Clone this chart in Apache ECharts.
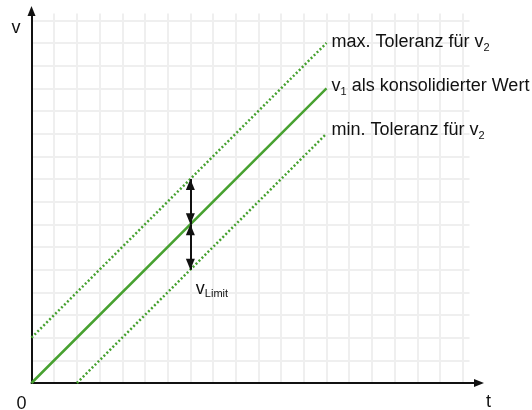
<!DOCTYPE html>
<html>
<head>
<meta charset="utf-8">
<script src="https://cdn.jsdelivr.net/npm/echarts@6/dist/echarts.min.js"></script>
<style>
  html, body { margin: 0; padding: 0; background: #ffffff; }
  #chart { width: 532px; height: 410px; }
</style>
</head>
<body>
<div id="chart"></div>
<script>
// Values in grid units (one unit = one grid cell)
const v1Points     = [[0, 0], [13, 13]];   // v1 as consolidated value
const maxTolPoints = [[0, 2], [13, 15]];   // upper tolerance for v2
const minTolPoints = [[2, 0], [13, 11]];   // lower tolerance for v2
const limitT = 7;                          // where the tolerance band is dimensioned
const limitLevels = [9, 7, 5];             // max tolerance, v1, min tolerance at limitT

// Texts
const seriesTexts = {
  max: 'max. Toleranz für v{s|2}',
  v1:  'v{s|1} als konsolidierter Wert',
  min: 'min. Toleranz für v{s|2}'
};
const limitText = 'v{s|Limit}';
const axisNames = { t: 't', v: 'v' };
const originLabel = '0';

const FONT = '"Liberation Sans", Arial, Helvetica, sans-serif';
const GREEN = '#47a130';
const INK = '#111111';
const GRIDLINE = '#efefef';

function subRich(lh) {
  return { s: { fontSize: 11, lineHeight: lh, verticalAlign: 'bottom', fontFamily: FONT, color: INK } };
}

function endLabel(text, dy) {
  return {
    show: true,
    formatter: text,
    distance: 5,
    offset: [0, dy],
    fontFamily: FONT,
    fontSize: 18,
    lineHeight: 22,
    color: INK,
    rich: subRich(6)
  };
}

const dotted = [2, 2.2];

const chart = echarts.init(document.getElementById('chart'), null, { renderer: 'canvas' });

chart.setOption({
  animation: false,
  backgroundColor: '#ffffff',
  grid: [
    // plotting area with the square grid
    { left: 31.5, top: 13.5, width: 438, height: 369.5, outerBoundsMode: 'none', containLabel: false },
    // axes with arrow heads, reaching a little past the grid
    { left: 31.5, top: 11, width: 447.5, height: 372, outerBoundsMode: 'none', containLabel: false }
  ],
  xAxis: [
    {
      gridIndex: 0, type: 'value', min: 0, max: 19.3, interval: 1,
      axisLine: { show: false }, axisTick: { show: false }, axisLabel: { show: false },
      splitLine: { show: true, showMinLine: false, showMaxLine: false,
                   lineStyle: { color: GRIDLINE, width: 2 } }
    },
    {
      gridIndex: 1, type: 'value', min: 0, max: 1, interval: 1,
      axisLine: { show: true, symbol: ['none', 'triangle'], symbolSize: [8, 10],
                  lineStyle: { color: INK, width: 2 } },
      axisTick: { show: false },
      splitLine: { show: false },
      axisLabel: {
        show: true, margin: 12, align: 'right', padding: [0, 5, 0, 0],
        fontFamily: FONT, fontSize: 18, lineHeight: 18, color: INK,
        formatter: v => (v === 0 ? originLabel : '')
      },
      name: axisNames.t, nameLocation: 'end', nameGap: 7,
      nameTextStyle: { fontFamily: FONT, fontSize: 18, lineHeight: 38, color: INK,
                       align: 'left', verticalAlign: 'top' }
    }
  ],
  yAxis: [
    {
      gridIndex: 0, type: 'value', min: 0, max: 16.3, interval: 1,
      axisLine: { show: false }, axisTick: { show: false }, axisLabel: { show: false },
      splitLine: { show: true, showMinLine: false, showMaxLine: false,
                   lineStyle: { color: GRIDLINE, width: 2 } }
    },
    {
      gridIndex: 1, type: 'value', min: 0, max: 1, interval: 1,
      axisLine: { show: true, symbol: ['none', 'triangle'], symbolSize: [8, 10],
                  lineStyle: { color: INK, width: 2 } },
      axisTick: { show: false }, axisLabel: { show: false }, splitLine: { show: false },
      name: axisNames.v, nameLocation: 'end', nameGap: -4,
      nameTextStyle: { fontFamily: FONT, fontSize: 18, lineHeight: 26, color: INK,
                       align: 'right', verticalAlign: 'top', padding: [0, 11, 0, 0] }
    }
  ],
  series: [
    {
      name: 'max', type: 'line', xAxisIndex: 0, yAxisIndex: 0,
      data: maxTolPoints, symbol: 'none', silent: true,
      lineStyle: { color: GREEN, width: 2.5, type: dotted },
      endLabel: endLabel(seriesTexts.max, -1)
    },
    {
      name: 'v1', type: 'line', xAxisIndex: 0, yAxisIndex: 0,
      data: v1Points, symbol: 'none', silent: true,
      lineStyle: { color: GREEN, width: 2.5, type: 'solid' },
      endLabel: endLabel(seriesTexts.v1, -2)
    },
    {
      name: 'min', type: 'line', xAxisIndex: 0, yAxisIndex: 0,
      data: minTolPoints, symbol: 'none', silent: true,
      lineStyle: { color: GREEN, width: 2.5, type: dotted },
      endLabel: endLabel(seriesTexts.min, -3.5),
      markLine: {
        silent: true,
        symbol: ['triangle', 'triangle'],
        symbolSize: [9, 11],
        symbolOffset: [[0, 5.5], [0, 5.5]],
        lineStyle: { color: INK, width: 2, type: 'solid' },
        label: { show: false },
        emphasis: { disabled: true },
        data: [
          [{ coord: [limitT, limitLevels[0]] }, { coord: [limitT, limitLevels[1]] }],
          [{ coord: [limitT, limitLevels[1]] }, { coord: [limitT, limitLevels[2]] }]
        ]
      },
      markPoint: {
        silent: true,
        symbol: 'circle', symbolSize: 1,
        itemStyle: { color: 'rgba(0,0,0,0)' },
        label: {
          show: true, position: 'right', distance: 0, offset: [5, 19],
          formatter: limitText,
          fontFamily: FONT, fontSize: 18, lineHeight: 22, color: INK,
          rich: subRich(2)
        },
        data: [{ coord: [limitT, limitLevels[2]] }]
      }
    }
  ]
});
</script>
</body>
</html>
